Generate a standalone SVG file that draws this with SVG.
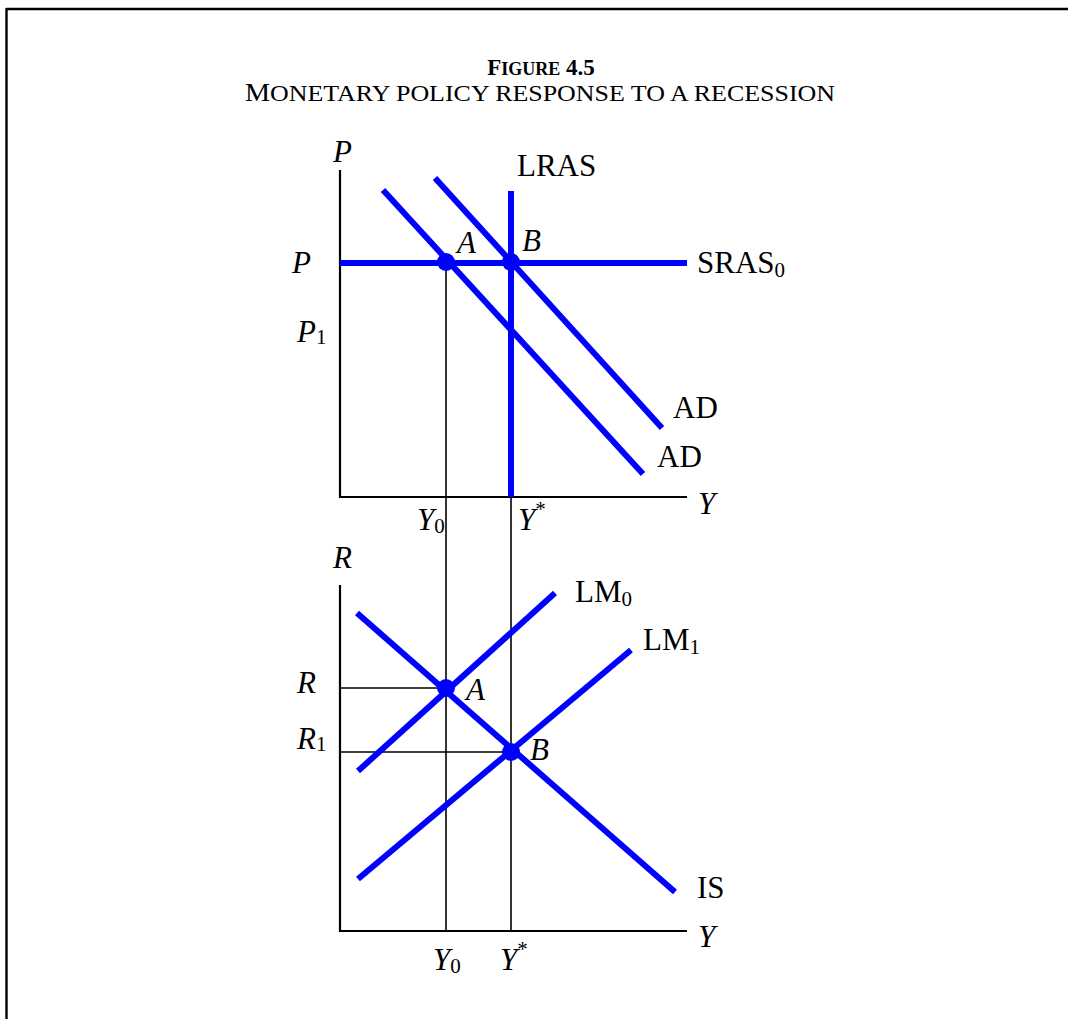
<svg xmlns="http://www.w3.org/2000/svg" width="1068" height="1019" viewBox="0 0 1068 1019">
<style>
text{font-family:"Liberation Serif","Times New Roman",serif;fill:#000}
.lbl{font-size:31px}
.it{font-style:italic}
.sub{font-size:21px}
.axis{stroke:#000;stroke-width:2.2;fill:none}
.thin{stroke:#000;stroke-width:1.6;fill:none}
.curve{stroke:#0000ff;stroke-width:6;fill:none}
.dot{fill:#0000ff}
</style>
<rect x="0" y="0" width="1068" height="1019" fill="#fff"/>
<g id="frame">
<line x1="6" y1="9" x2="1068" y2="9" stroke="#000" stroke-width="2.4"/>
<line x1="6.5" y1="8" x2="6.5" y2="1019" stroke="#000" stroke-width="2.4"/>
</g>
<g id="title">
<text x="541" y="75" text-anchor="middle" font-weight="bold" font-size="23">F<tspan font-size="18">IGURE</tspan> 4.5</text>
<text x="245" y="101" font-size="25" textLength="590" lengthAdjust="spacingAndGlyphs">M<tspan font-size="23">ONETARY POLICY RESPONSE TO A RECESSION</tspan></text>
</g>
<g id="connectors">
<line class="thin" x1="446" y1="262" x2="446" y2="931"/>
<line class="thin" x1="511" y1="497" x2="511" y2="931"/>
<line class="thin" x1="340" y1="688" x2="446" y2="688"/>
<line class="thin" x1="340" y1="752" x2="511" y2="752"/>
</g>
<g id="upper-axes">
<polyline class="axis" points="340,170 340,497 687,497"/>
<text class="lbl it" x="333" y="162">P</text>
<text class="lbl it" x="698" y="514">Y</text>
</g>
<g id="SRAS0">
<line class="curve" x1="340" y1="263" x2="687" y2="263"/>
<text class="lbl" x="697" y="273">SRAS<tspan class="sub" dy="4">0</tspan></text>
</g>
<g id="LRAS">
<line class="curve" x1="511" y1="191" x2="511" y2="497"/>
<text class="lbl" x="517" y="176">LRAS</text>
</g>
<g id="AD0">
<line class="curve" x1="383" y1="190" x2="643" y2="474"/>
<text class="lbl" x="657" y="467">AD</text>
</g>
<g id="AD1">
<line class="curve" x1="435" y1="178" x2="662" y2="428"/>
<text class="lbl" x="673" y="418">AD</text>
</g>
<g id="point-A-upper">
<circle class="dot" cx="446" cy="262" r="9"/>
<text class="lbl it" x="457" y="253">A</text>
</g>
<g id="point-B-upper">
<circle class="dot" cx="511" cy="262" r="9"/>
<text class="lbl it" x="522" y="251">B</text>
</g>
<g id="upper-labels">
<text class="lbl it" x="292" y="273">P</text>
<text class="lbl" x="297" y="342"><tspan class="it">P</tspan><tspan class="sub" dy="2">1</tspan></text>
<text class="lbl" x="417" y="530"><tspan class="it">Y</tspan><tspan class="sub" dy="3">0</tspan></text>
<text class="lbl" x="518" y="530"><tspan class="it">Y</tspan><tspan class="sub" dy="-14">*</tspan></text>
</g>
<g id="lower-axes">
<polyline class="axis" points="340,585 340,931 687,931"/>
<text class="lbl it" x="333" y="568">R</text>
<text class="lbl it" x="698" y="947">Y</text>
</g>
<g id="IS">
<line class="curve" x1="357" y1="613" x2="675" y2="892"/>
<text class="lbl" x="697" y="898">IS</text>
</g>
<g id="LM0">
<line class="curve" x1="358" y1="771" x2="555" y2="593"/>
<text class="lbl" x="575" y="602">LM<tspan class="sub" dy="4">0</tspan></text>
</g>
<g id="LM1">
<line class="curve" x1="358" y1="879" x2="631" y2="650"/>
<text class="lbl" x="643" y="650">LM<tspan class="sub" dy="4">1</tspan></text>
</g>
<g id="point-A-lower">
<circle class="dot" cx="446" cy="688" r="9"/>
<text class="lbl it" x="466" y="700">A</text>
</g>
<g id="point-B-lower">
<circle class="dot" cx="511" cy="752" r="9"/>
<text class="lbl it" x="530" y="760">B</text>
</g>
<g id="lower-labels">
<text class="lbl it" x="297" y="693">R</text>
<text class="lbl" x="297" y="749"><tspan class="it">R</tspan><tspan class="sub" dy="2">1</tspan></text>
<text class="lbl" x="433" y="970"><tspan class="it">Y</tspan><tspan class="sub" dy="3">0</tspan></text>
<text class="lbl" x="500" y="970"><tspan class="it">Y</tspan><tspan class="sub" dy="-14">*</tspan></text>
</g>
</svg>
